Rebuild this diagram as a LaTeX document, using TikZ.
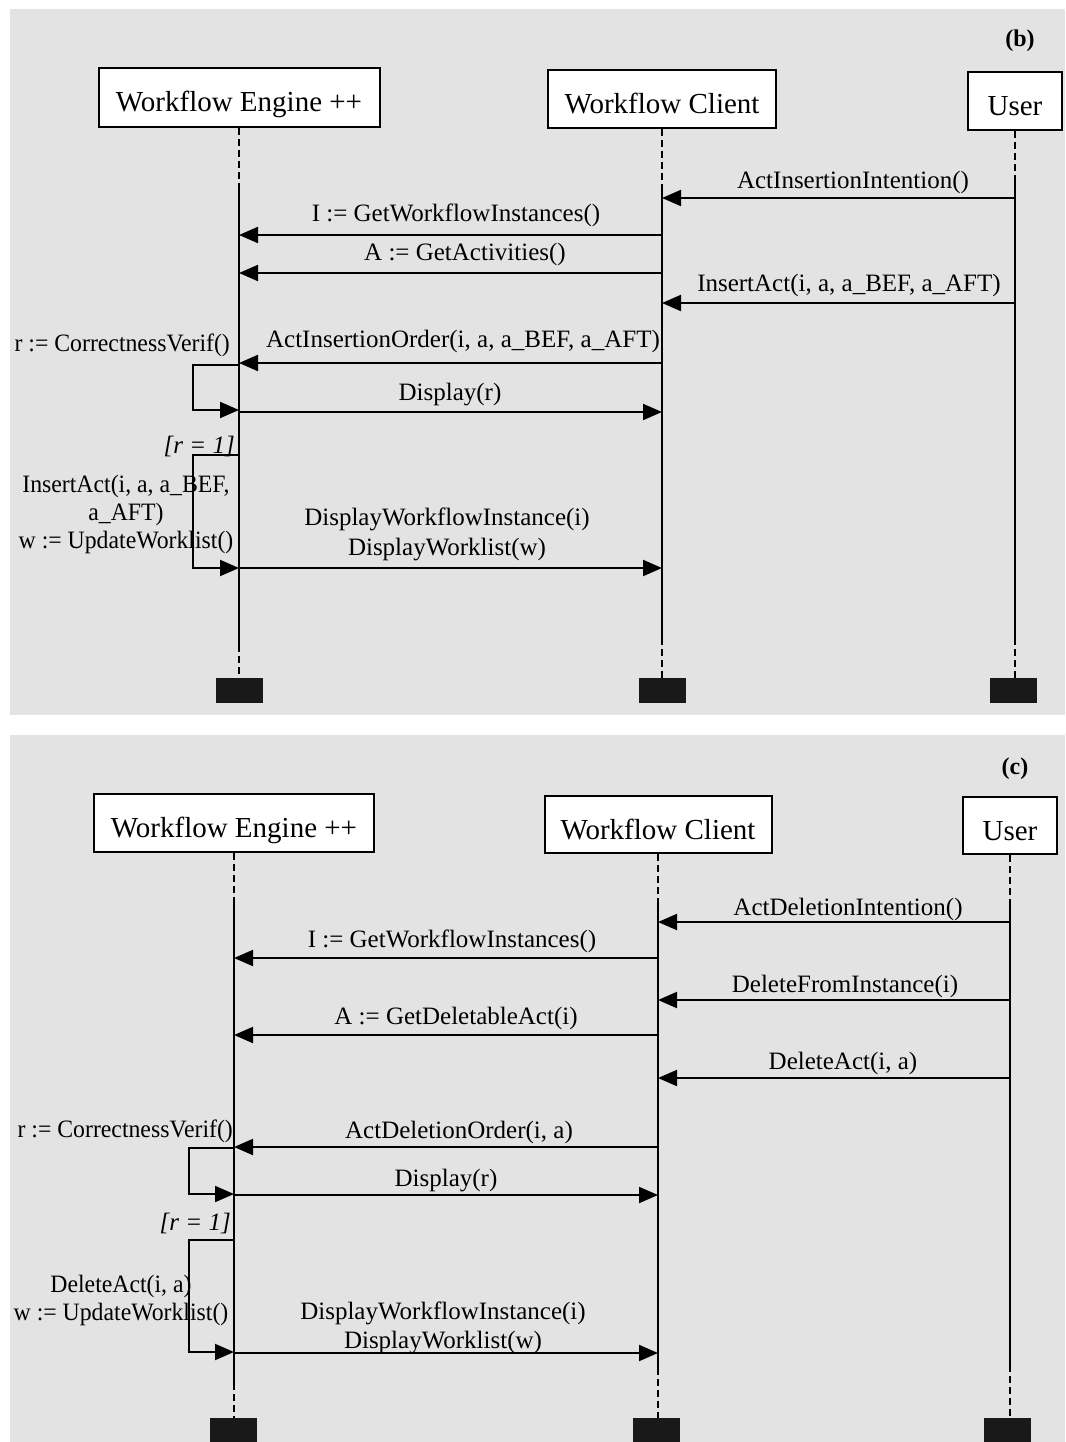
\documentclass[tikz,border=0pt]{standalone}
\usepackage{graphicx}
\usepackage{fontspec}
\setmainfont{Liberation Serif}
\usetikzlibrary{arrows.meta}
\definecolor{panelgray}{RGB}{227,227,227}
\newcommand\narrow[1]{\scalebox{0.95}[1]{#1}}

\tikzset{
  actor/.style={draw, line width=2pt, fill=white, inner sep=0pt,
    text height=29pt, text depth=0pt, font=\fontsize{29}{32}\selectfont},
  msg/.style={line width=2pt, -{Triangle[length=19pt,width=16pt]}},
  lbl/.style={font=\fontsize{25}{28}\selectfont, inner sep=0pt},
  guard/.style={font=\itshape\fontsize{25}{28}\selectfont, inner sep=0pt, anchor=east},
  lifedash/.style={line width=1.8pt, dash pattern=on 7pt off 4pt},
  lifesolid/.style={line width=1.8pt},
  endbar/.style={fill=black!90, inner sep=0pt, minimum width=47pt, minimum height=25pt},
  tag/.style={font=\bfseries\fontsize{24}{28}\selectfont, inner sep=0pt},
}

\begin{document}
\begin{tikzpicture}[x=1pt,y=-1pt]
\useasboundingbox (0,0) rectangle (1065,1442);
\fill[panelgray] (10,9) rectangle (1065,715);
\fill[panelgray] (10,735) rectangle (1065,1442);

% ---------------- panel (b): activity insertion ----------------
\node[tag] (tagb) at (1020,41) {(b)};
\node[actor, minimum width=281pt, minimum height=59pt] (bE) at (239,97.5) {Workflow Engine ++};
\node[actor, minimum width=228pt, minimum height=58pt] (bC) at (662,99) {Workflow Client};
\node[actor, minimum width=94pt, minimum height=58pt] (bU) at (1015,101) {User};

\node[endbar] (bEx) at (239,690.5) {};
\node[endbar] (bCx) at (662,690.5) {};
\node[endbar] (bUx) at (1013,690.5) {};

% lifelines: dashed while idle, solid while active
\coordinate (bE1) at (bE |- 0,183);  \coordinate (bE2) at (bE |- 0,645);
\coordinate (bC1) at (bC |- 0,185);  \coordinate (bC2) at (bC |- 0,638);
\coordinate (bU1) at (bU |- 0,178);  \coordinate (bU2) at (bU |- 0,638);
\draw[lifedash] (bE.south) -- (bE1);
\draw[lifesolid] (bE1) -- (bE2);
\draw[lifedash] (bE2) -- (bE |- bEx.north);
\draw[lifedash] (bC.south) -- (bC1);
\draw[lifesolid] (bC1) -- (bC2);
\draw[lifedash] (bC2) -- (bC |- bCx.north);
\draw[lifedash] (bU.south) -- (bU1);
\draw[lifesolid] (bU1) -- (bU2);
\draw[lifedash] (bU2) -- (bU |- bUx.north);

% messages
\draw[msg] (bU |- 0,198) -- (bC |- 0,198);
\node[lbl] (lb1) at (853,182) {ActInsertionIntention()};
\draw[msg] (bC |- 0,235) -- (bE |- 0,235);
\node[lbl] (lb2) at (456,215) {I := GetWorkflowInstances()};
\draw[msg] (bC |- 0,273) -- (bE |- 0,273);
\node[lbl] (lb3) at (465,254) {A := GetActivities()};
\draw[msg] (bU |- 0,303) -- (bC |- 0,303);
\node[lbl] (lb4) at (849,285) {InsertAct(i, a, a\_BEF, a\_AFT)};
\draw[msg] (bC |- 0,363) -- (bE |- 0,363);
\node[lbl] (lb5) at (463,341) {ActInsertionOrder(i, a, a\_BEF, a\_AFT)};

% self call: correctness check
\draw[msg] (bE |- 0,365) -- (193,365) -- (193,410) -- (bE |- 0,410);
\node[lbl, anchor=east] (lb6) at (230,345) {\narrow{r := CorrectnessVerif()}};
\draw[msg] (bE |- 0,412) -- (bC |- 0,412);
\node[lbl] (lb7) at (450,395) {Display(r)};

% guarded self call: insertion and worklist update
\node[guard] (gb) at (235,446) {[r = 1]};
\draw[msg] (bE |- 0,455) -- (193,455) -- (193,568) -- (bE |- 0,568);
\node[lbl, align=center] (lb8) at (126,514) {\narrow{InsertAct(i, a, a\_BEF,}\\\narrow{a\_AFT)}\\\narrow{w := UpdateWorklist()}};
\draw[msg] (bE |- 0,568) -- (bC |- 0,568);
\node[lbl, align=center, font=\fontsize{25}{30}\selectfont] (lb9) at (447,534) {DisplayWorkflowInstance(i)\\DisplayWorklist(w)};

% ---------------- panel (c): activity deletion ----------------
\node[tag] (tagc) at (1015,769) {(c)};
\node[actor, minimum width=280pt, minimum height=58pt] (cE) at (234,823) {Workflow Engine ++};
\node[actor, minimum width=227pt, minimum height=57pt] (cC) at (658,824.5) {Workflow Client};
\node[actor, minimum width=94pt, minimum height=57pt] (cU) at (1010,825.5) {User};

\node[endbar, minimum height=24pt] (cEx) at (233,1430) {};
\node[endbar, minimum height=24pt] (cCx) at (656,1430) {};
\node[endbar, minimum height=24pt] (cUx) at (1007,1430) {};

\coordinate (cE1) at (cE |- 0,900);  \coordinate (cE2) at (cE |- 0,1383);
\coordinate (cC1) at (cC |- 0,900);  \coordinate (cC2) at (cC |- 0,1368);
\coordinate (cU1) at (cU |- 0,900);  \coordinate (cU2) at (cU |- 0,1365);
\draw[lifedash] (cE.south) -- (cE1);
\draw[lifesolid] (cE1) -- (cE2);
\draw[lifedash] (cE2) -- (cE |- cEx.north);
\draw[lifedash] (cC.south) -- (cC1);
\draw[lifesolid] (cC1) -- (cC2);
\draw[lifedash] (cC2) -- (cC |- cCx.north);
\draw[lifedash] (cU.south) -- (cU1);
\draw[lifesolid] (cU1) -- (cU2);
\draw[lifedash] (cU2) -- (cU |- cUx.north);

\draw[msg] (cU |- 0,922) -- (cC |- 0,922);
\node[lbl] (lc1) at (848,909) {ActDeletionIntention()};
\draw[msg] (cC |- 0,958) -- (cE |- 0,958);
\node[lbl] (lc2) at (452,941) {I := GetWorkflowInstances()};
\draw[msg] (cU |- 0,1000) -- (cC |- 0,1000);
\node[lbl] (lc3) at (845,986) {DeleteFromInstance(i)};
\draw[msg] (cC |- 0,1035) -- (cE |- 0,1035);
\node[lbl] (lc4) at (456,1018) {A := GetDeletableAct(i)};
\draw[msg] (cU |- 0,1078) -- (cC |- 0,1078);
\node[lbl] (lc5) at (843,1063) {DeleteAct(i, a)};
\draw[msg] (cC |- 0,1147) -- (cE |- 0,1147);
\node[lbl] (lc6) at (459,1132) {ActDeletionOrder(i, a)};

\draw[msg] (cE |- 0,1148) -- (189,1148) -- (189,1194) -- (cE |- 0,1194);
\node[lbl, anchor=east] (lc7) at (233,1131) {\narrow{r := CorrectnessVerif()}};
\draw[msg] (cE |- 0,1195) -- (cC |- 0,1195);
\node[lbl] (lc8) at (446,1181) {Display(r)};

\node[guard] (gc) at (231,1223) {[r = 1]};
\draw[msg] (cE |- 0,1240) -- (189,1240) -- (189,1352) -- (cE |- 0,1352);
\node[lbl, align=center] (lc9) at (121,1300) {\narrow{DeleteAct(i, a)}\\\narrow{w := UpdateWorklist()}};
\draw[msg] (cE |- 0,1353) -- (cC |- 0,1353);
\node[lbl, align=center, font=\fontsize{25}{29}\selectfont] (lc10) at (443,1328) {DisplayWorkflowInstance(i)\\DisplayWorklist(w)};
\end{tikzpicture}
\end{document}
